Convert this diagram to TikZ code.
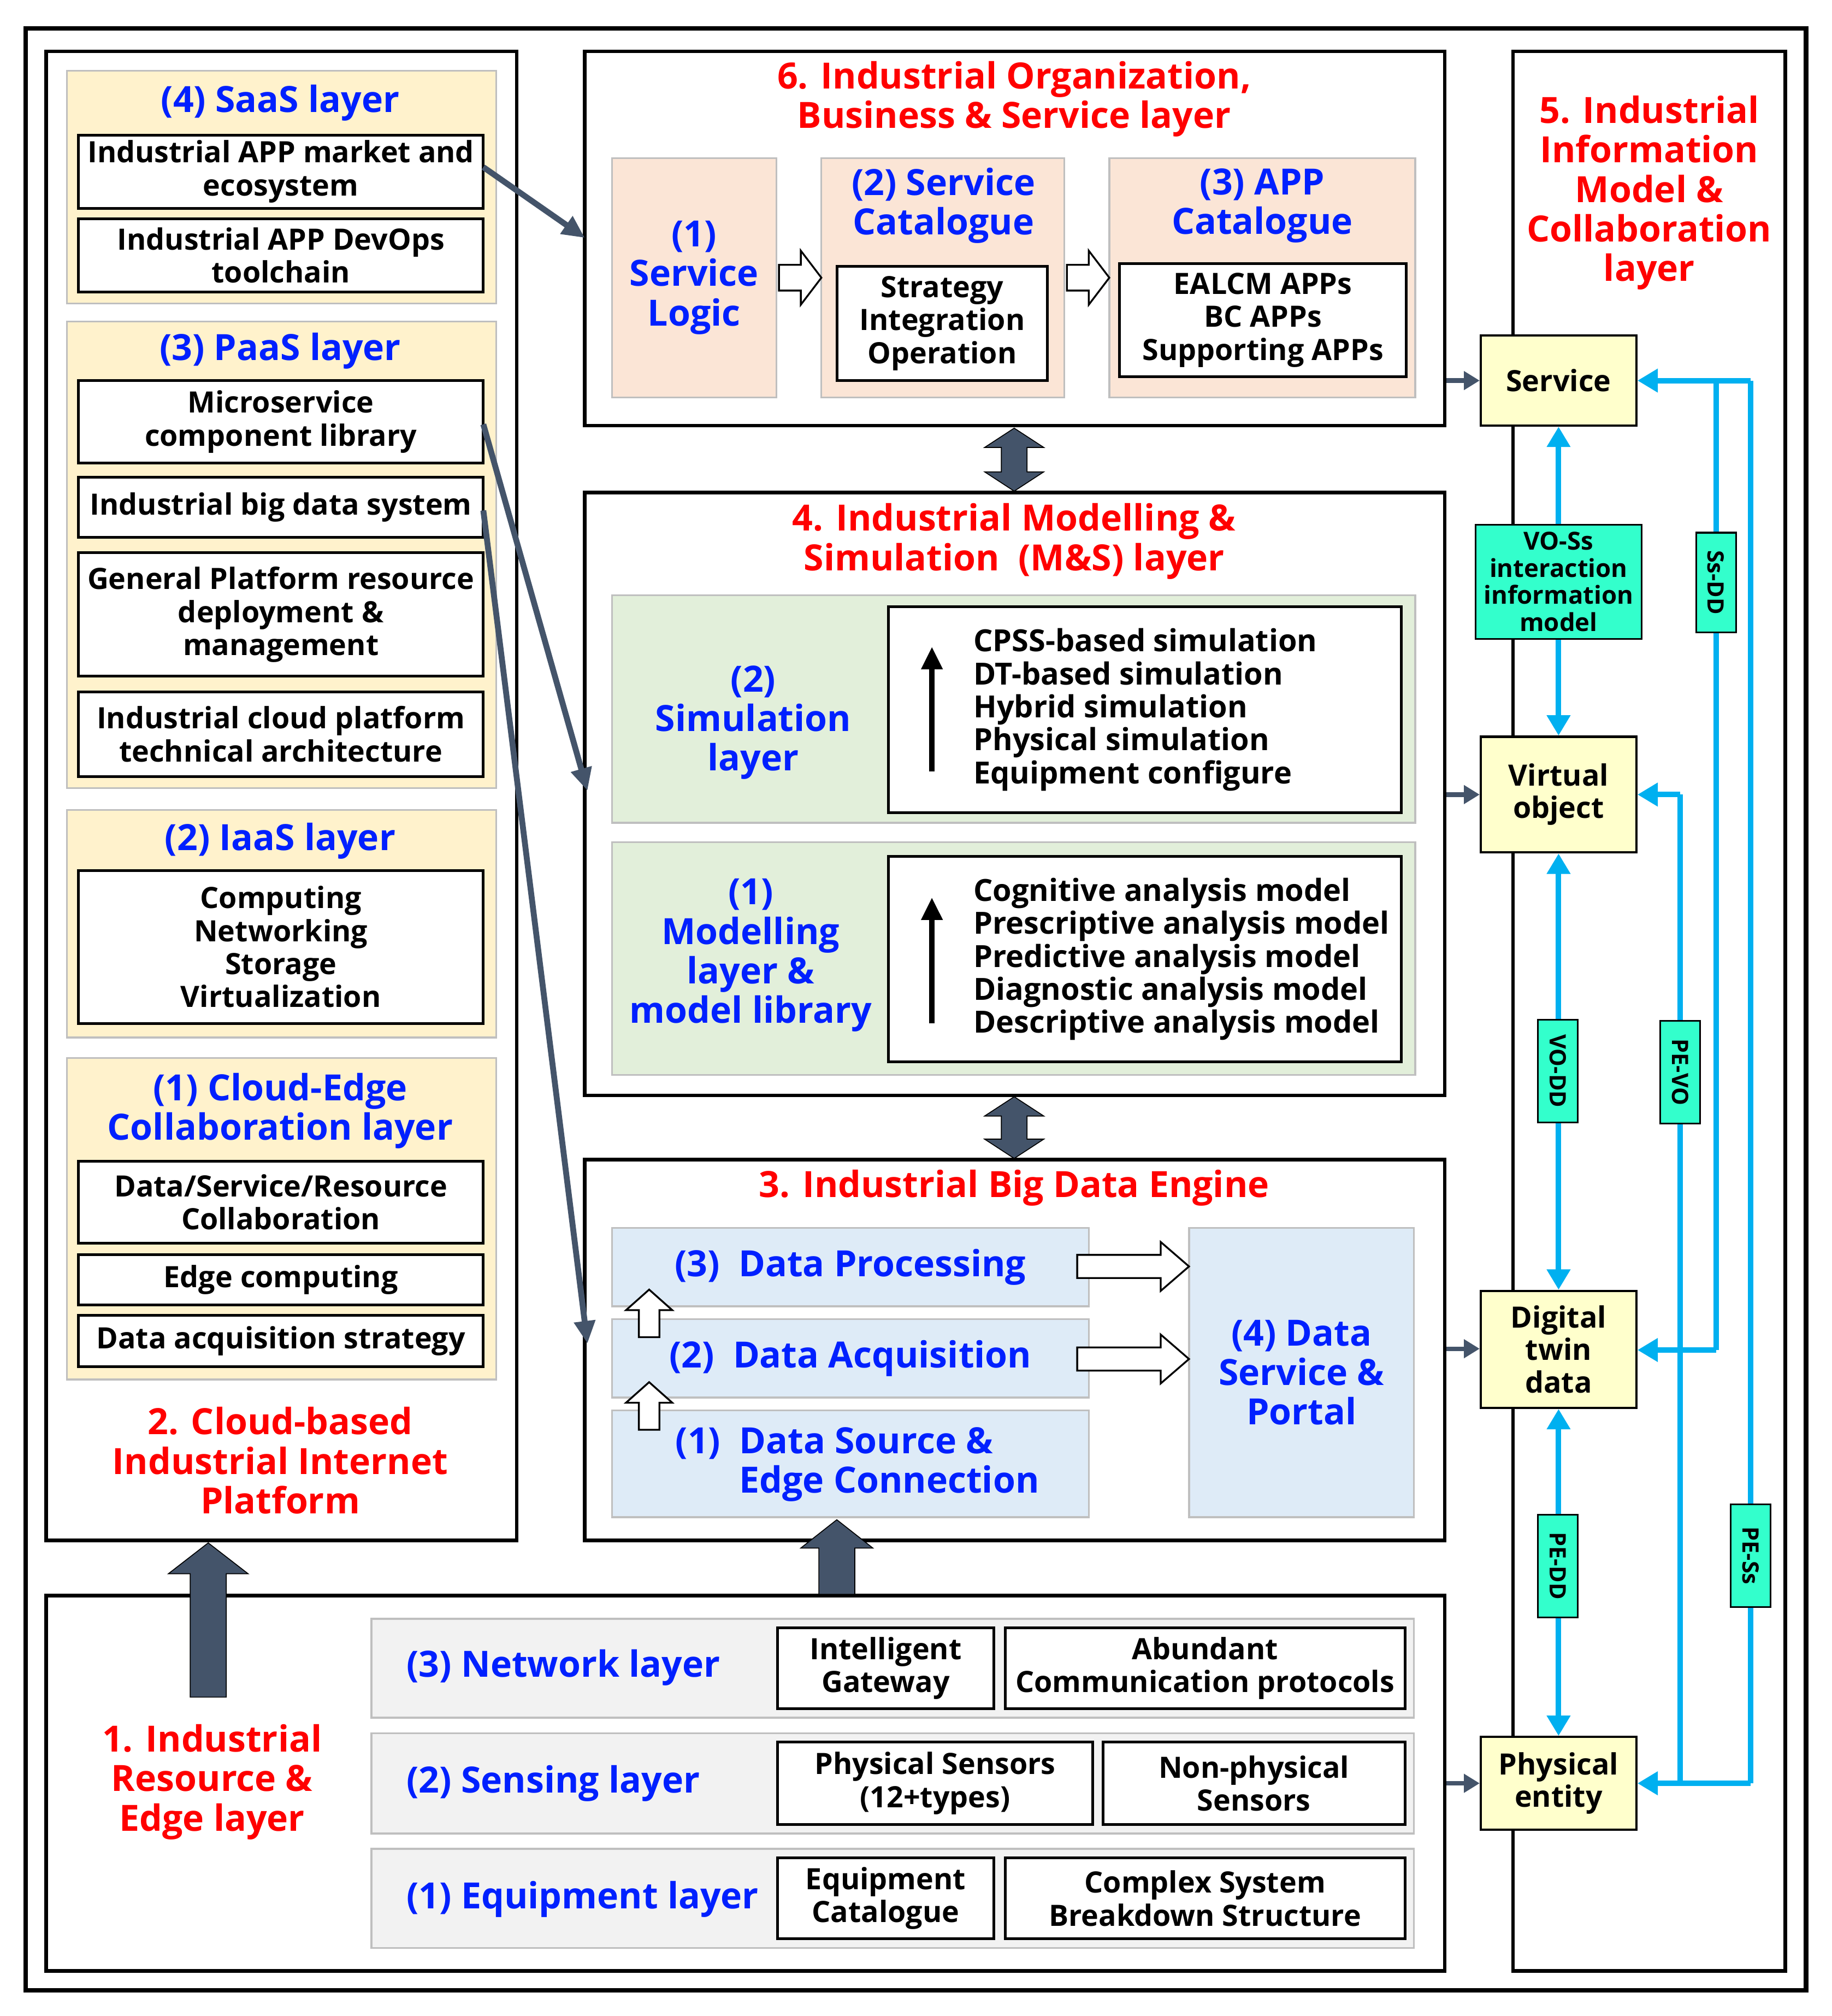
\documentclass[tikz,border=0pt]{standalone}
\usepackage{fontspec}
\setmainfont{Open Sans}
\usetikzlibrary{arrows.meta}
\definecolor{cream}{RGB}{255,242,204}
\definecolor{peach}{RGB}{251,229,214}
\definecolor{lgreen}{RGB}{226,239,218}
\definecolor{lblue}{RGB}{222,235,247}
\definecolor{lgray}{RGB}{242,242,242}
\definecolor{lyel}{RGB}{255,255,204}
\definecolor{aqua}{RGB}{51,255,204}
\definecolor{cyanl}{RGB}{0,176,240}
\definecolor{slate}{RGB}{68,84,106}
\definecolor{tblue}{RGB}{0,32,255}
\newcommand\bx[7]{\node[#6, minimum width={(#4-#2)*0.02cm}, minimum height={(#5-#3)*0.02cm}] (#1) at ({(#2+#4)/2},{(#3+#5)/2}) {#7};}
% right arrow: x0 y x1 shafthalf headhalf headlen style
\newcommand\rarrow[7]{\draw[#7] ({#1},{#2-#4}) -- ({#3-#6},{#2-#4}) -- ({#3-#6},{#2-#5}) -- ({#3},{#2}) -- ({#3-#6},{#2+#5}) -- ({#3-#6},{#2+#4}) -- ({#1},{#2+#4}) -- cycle;}
% up arrow: x y0(bottom) y1(top) shafthalf headhalf headlen style
\newcommand\uarrow[7]{\draw[#7] ({#1-#4},{#2}) -- ({#1-#4},{#3+#6}) -- ({#1-#5},{#3+#6}) -- ({#1},{#3}) -- ({#1+#5},{#3+#6}) -- ({#1+#4},{#3+#6}) -- ({#1+#4},{#2}) -- cycle;}
% double vertical arrow: x ytop ybottom shafthalf headhalf headlen style
\newcommand\darrow[7]{\draw[#7] ({#1},{#2}) -- ({#1+#5},{#2+#6}) -- ({#1+#4},{#2+#6}) -- ({#1+#4},{#3-#6}) -- ({#1+#5},{#3-#6}) -- ({#1},{#3}) -- ({#1-#5},{#3-#6}) -- ({#1-#4},{#3-#6}) -- ({#1-#4},{#2+#6}) -- ({#1-#5},{#2+#6}) -- cycle;}
\tikzset{
 box/.style={draw=black,line width=1.2pt,inner sep=0pt,align=center,font=\fontsize{13}{14.6}\selectfont\bfseries},
 frame/.style={draw=black,line width=1.6pt,inner sep=0pt},
 panel/.style={draw=black!25,line width=0.8pt,inner sep=0pt},
 bt/.style={font=\fontsize{13.5}{14.6}\selectfont\bfseries,align=left,inner sep=0pt,anchor=west},
 blt/.style={font=\fontsize{16}{17.5}\selectfont\bfseries,text=tblue,align=center,inner sep=0pt},
 rt/.style={font=\fontsize{16}{17.5}\selectfont\bfseries,text=red,align=center,inner sep=0pt},
 yb/.style={draw=black,line width=1pt,fill=lyel,inner sep=0pt,align=center,font=\fontsize{13}{14.3}\selectfont\bfseries},
 lab/.style={draw=black,line width=0.8pt,fill=aqua,inner sep=0pt,align=center,font=\fontsize{10}{11.2}\selectfont\bfseries},
 cy/.style={cyanl,line width=2.4pt,-{Triangle[length=9pt,width=10pt]}},
 cyd/.style={cyanl,line width=2.4pt,{Triangle[length=9pt,width=10pt]}-{Triangle[length=9pt,width=10pt]}},
 dg/.style={slate,line width=2.6pt,-{Triangle[length=10pt,width=9pt]}},
 sm/.style={slate,line width=2pt,-{Triangle[length=7pt,width=8pt]}},
 hol/.style={draw=black,line width=0.8pt,fill=white},
 solid/.style={fill=slate},
}
\begin{document}
\begin{tikzpicture}[x=0.02cm,y=-0.02cm]
\useasboundingbox[fill=white] (0,0) rectangle (1425,1568);
\bx{outer}{20}{22}{1405}{1548}{frame,line width=2pt}{}
% left panel
\bx{p2}{36}{40}{402}{1198}{frame}{}
\bx{saas}{52}{55}{386}{236}{panel,fill=cream}{}
\node[blt] (saast) at (218,80) {(4) SaaS layer};
\bx{s1}{61}{105}{376}{162}{box,fill=white}{Industrial APP market and\\ecosystem}
\bx{s2}{61}{170}{376}{227}{box,fill=white}{Industrial APP DevOps\\toolchain}
\bx{paas}{52}{250}{386}{613}{panel,fill=cream}{}
\node[blt] (paast) at (218,273) {(3) PaaS layer};
\bx{a1}{61}{296}{376}{360}{box,fill=white}{Microservice\\component library}
\bx{a2}{61}{371}{376}{418}{box,fill=white}{Industrial big data system}
\bx{a3}{61}{430}{376}{526}{box,fill=white}{General Platform resource\\deployment \&\\management}
\bx{a4}{61}{538}{376}{604}{box,fill=white}{Industrial cloud platform\\technical architecture}
\bx{iaas}{52}{630}{386}{807}{panel,fill=cream}{}
\node[blt] (iaast) at (218,654) {(2) IaaS layer};
\bx{i1}{61}{677}{376}{796}{box,fill=white}{Computing\\Networking\\Storage\\Virtualization}
\bx{ce}{52}{823}{386}{1073}{panel,fill=cream}{}
\node[blt] (cet) at (218,864) {(1) Cloud-Edge\\Collaboration layer};
\bx{c1}{61}{903}{376}{967}{box,fill=white}{Data/Service/Resource\\Collaboration}
\bx{c2}{61}{976}{376}{1015}{box,fill=white}{Edge computing}
\bx{c3}{61}{1023}{376}{1063}{box,fill=white}{Data acquisition strategy}
\node[rt] (p2t) at (218,1136) {2. Cloud-based\\Industrial Internet\\Platform};
% box 6
\bx{b6}{455}{40}{1124}{331}{frame}{}
\node[rt] (b6t) at (789,77) {6. Industrial Organization,\\Business \& Service layer};
\bx{sl}{476}{123}{604}{309}{panel,fill=peach,blt}{(1)\\Service\\Logic}
\bx{sc}{639}{123}{828}{309}{panel,fill=peach}{}
\node[blt] (sct) at (734,160) {(2) Service\\Catalogue};
\bx{sci}{651}{207}{815}{296}{box,fill=white}{Strategy\\Integration\\Operation}
\bx{ac}{863}{123}{1101}{309}{panel,fill=peach}{}
\node[blt] (act) at (982,160) {(3) APP\\Catalogue};
\bx{aci}{871}{205}{1094}{293}{box,fill=white}{EALCM APPs\\BC APPs\\Supporting APPs}
\rarrow{606}{216}{639}{10}{21}{16}{hol}
\rarrow{830}{216}{863}{10}{21}{16}{hol}
% box 4
\bx{b4}{455}{383}{1124}{852}{frame}{}
\node[rt] (b4t) at (789,421) {4. Industrial Modelling \&\\Simulation\ \ (M\&S) layer};
\bx{g2}{476}{463}{1101}{640}{panel,fill=lgreen}{}
\bx{g1}{476}{655}{1101}{836}{panel,fill=lgreen}{}
\node[blt] (g2t) at (586,562) {(2)\\Simulation\\layer};
\node[blt] (g1t) at (584,743) {(1)\\Modelling\\layer \&\\model library};
\bx{w2}{691}{472}{1090}{632}{box,fill=white}{}
\bx{w1}{691}{666}{1090}{826}{box,fill=white}{}
\node[bt] (l2) at (757,552) {CPSS-based simulation\\DT-based simulation\\Hybrid simulation\\Physical simulation\\Equipment configure};
\node[bt] (l1) at (757,746) {Cognitive analysis model\\Prescriptive analysis model\\Predictive analysis model\\Diagnostic analysis model\\Descriptive analysis model};
\coordinate (u2a) at (725,600); \coordinate (u2b) at (725,503);
\coordinate (u1a) at (725,796); \coordinate (u1b) at (725,698);
\draw[line width=2.4pt,-{Triangle[length=10pt,width=9pt]}] (u2a) -- (u2b);
\draw[line width=2.4pt,-{Triangle[length=10pt,width=9pt]}] (u1a) -- (u1b);
% box 3
\bx{b3}{455}{902}{1124}{1198}{frame}{}
\node[rt] (b3t) at (789,924) {3. Industrial Big Data Engine};
\bx{d3}{476}{955}{847}{1016}{panel,fill=lblue,blt}{(3)\ \ Data Processing}
\bx{d2}{476}{1026}{847}{1087}{panel,fill=lblue,blt}{(2)\ \ Data Acquisition}
\bx{d1}{476}{1097}{847}{1180}{panel,fill=lblue}{}
\node[blt,align=left] (d1t) at (667,1139) {(1)\ \ Data Source \&\\\phantom{(1)\ \ }Edge Connection};
\bx{d4}{925}{955}{1100}{1180}{panel,fill=lblue,blt}{(4) Data\\Service \&\\Portal}
\rarrow{838}{985}{925}{9}{19}{22}{hol}
\rarrow{838}{1057}{925}{9}{19}{22}{hol}
\uarrow{505}{1040}{1003}{8}{18}{16}{hol}
\uarrow{505}{1112}{1075}{8}{18}{16}{hol}
% double arrows
\darrow{789}{333}{382}{10}{23}{15}{solid}
\darrow{789}{853}{901}{10}{23}{15}{solid}
% box 1
\bx{b1}{36}{1241}{1124}{1533}{frame}{}
\bx{r3}{289}{1259}{1100}{1336}{panel,fill=lgray}{}
\bx{r2}{289}{1348}{1100}{1426}{panel,fill=lgray}{}
\bx{r1}{289}{1438}{1100}{1515}{panel,fill=lgray}{}
\node[blt,anchor=west] (r3t) at (316,1297) {(3) Network layer};
\node[blt,anchor=west] (r2t) at (316,1387) {(2) Sensing layer};
\node[blt,anchor=west] (r1t) at (316,1477) {(1) Equipment layer};
\bx{n1}{605}{1266}{773}{1329}{box,fill=white}{Intelligent\\Gateway}
\bx{n2}{782}{1266}{1093}{1329}{box,fill=white}{Abundant\\Communication protocols}
\bx{n3}{605}{1355}{850}{1419}{box,fill=white}{Physical Sensors\\(12+types)}
\bx{n4}{858}{1355}{1093}{1419}{box,fill=white}{Non-physical\\Sensors}
\bx{n5}{605}{1445}{773}{1508}{box,fill=white}{Equipment\\Catalogue}
\bx{n6}{782}{1445}{1093}{1508}{box,fill=white}{Complex System\\Breakdown Structure}
\node[rt] (b1t) at (165,1386) {1. Industrial\\Resource \&\\Edge layer};
\uarrow{162}{1320}{1200}{14}{31}{24}{solid}
\uarrow{651}{1240}{1182}{14}{28}{22}{solid}
% diagonal connectors
\coordinate (e1) at (455,185); \coordinate (e2) at (457,615); \coordinate (e3) at (457,1045);
\coordinate (s1e) at (376,130); \coordinate (a1e) at (376,330); \coordinate (a2e) at (376,397);
\draw[dg] (s1e) -- (e1);
\draw[dg] (a1e) -- (e2);
\draw[dg] (a2e) -- (e3);
% right panel
\bx{b5}{1177}{40}{1389}{1533}{frame}{}
\node[rt] (b5t) at (1283,150) {5. Industrial\\Information\\Model \&\\Collaboration\\layer};
\bx{sv}{1152}{261}{1273}{331}{yb}{Service}
\bx{vo}{1152}{573}{1273}{663}{yb}{Virtual\\object}
\bx{dt}{1152}{1004}{1273}{1095}{yb}{Digital\\twin\\data}
\bx{pe}{1152}{1351}{1273}{1423}{yb}{Physical\\entity}
\coordinate (k1) at (1125,296); \coordinate (k2) at (1125,618); \coordinate (k3) at (1125,1049); \coordinate (k4) at (1125,1387);
\draw[sm] (k1) -- (sv.west|-k1);
\draw[sm] (k2) -- (vo.west|-k2);
\draw[sm] (k3) -- (dt.west|-k3);
\draw[sm] (k4) -- (pe.west|-k4);
\draw[cyd] (sv.south) -- (vo.north);
\draw[cyd] (vo.south) -- (dt.north);
\draw[cyd] (dt.south) -- (pe.north);
\coordinate (q1) at (1335,296); \coordinate (q2) at (1335,1050);
\coordinate (q3) at (1307,618); \coordinate (q4) at (1307,1387);
\coordinate (q5) at (1362,296); \coordinate (q6) at (1362,1387);
\draw[cyanl,line width=2.4pt] (q5) -- (q6);
\draw[cyanl,line width=2.4pt] (q1) -- (q2);
\draw[cyanl,line width=2.4pt] (q3) -- (q4);
\draw[cy] (q5) -- (sv.east|-q5);
\draw[cy] (q6) -- (pe.east|-q6);
\draw[cy] (q2) -- (dt.east|-q2);
\draw[cy] (q3) -- (vo.east|-q3);
\bx{lv}{1148}{408}{1277}{497}{lab,font=\fontsize{11}{12}\selectfont\bfseries}{VO-Ss\\interaction\\information\\model}
\node[lab,rotate=-90,minimum width=1.6cm,minimum height=0.62cm] (lvd) at (1212,833) {VO-DD};
\node[lab,rotate=-90,minimum width=1.6cm,minimum height=0.62cm] (lpd) at (1212,1218) {PE-DD};
\node[lab,rotate=-90,minimum width=1.55cm,minimum height=0.62cm] (lsd) at (1335,453) {Ss-DD};
\node[lab,rotate=-90,minimum width=1.6cm,minimum height=0.62cm] (lpv) at (1307,834) {PE-VO};
\node[lab,rotate=-90,minimum width=1.6cm,minimum height=0.62cm] (lps) at (1362,1210) {PE-Ss};
\end{tikzpicture}
\end{document}
